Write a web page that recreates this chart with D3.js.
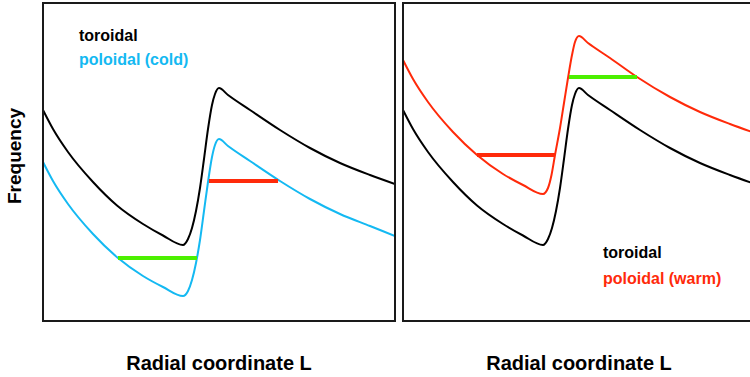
<!DOCTYPE html>
<html>
<head>
<meta charset="utf-8">
<script src="https://cdn.jsdelivr.net/npm/d3@7"></script>
<style>
  html, body { margin: 0; padding: 0; background: #fff; }
  svg { display: block; }
  text { font-family: "Liberation Sans", Arial, sans-serif; font-weight: bold; }
</style>
</head>
<body>
<svg id="chart" width="750" height="377"></svg>
<script>
// Radial coordinate L (arbitrary units) and frequency (arbitrary units)
const toroidalL = [0, 1, 2.5, 5, 7.4, 10, 12, 14.0, 14.5, 14.9, 15.3, 15.7, 16.1, 16.5, 16.9, 17.2, 17.6, 18.5, 20.7, 23.7, 26.7, 29.7, 32.7, 35.2];
const toroidalF = [21.1, 19.2, 16.9, 13.9, 11.55, 9.7, 8.55, 7.6, 8.2, 9.3, 11.0, 13.3, 16.2, 19.2, 21.6, 22.7, 23.3, 22.6, 21.1, 19.1, 17.3, 15.8, 14.6, 13.7];

const coldL = [0, 1, 2.5, 5, 7.5, 10, 12, 14.0, 14.5, 14.9, 15.3, 15.7, 16.1, 16.5, 16.9, 17.2, 17.6, 18.5, 20.7, 23.7, 26.7, 29.7, 32.7, 35.2];
const coldF = [15.9, 14.0, 11.7, 8.7, 6.3, 4.5, 3.4, 2.5, 3.0, 4.1, 5.8, 8.1, 11.0, 13.9, 16.4, 17.6, 18.2, 17.5, 16.0, 14.0, 12.2, 10.7, 9.5, 8.5];

const warmL = [0, 1, 2.5, 5, 7.4, 10, 12, 14.0, 14.5, 14.85, 15.2, 15.7, 16.1, 16.5, 16.9, 17.2, 17.6, 18.5, 20.7, 23.4, 26.7, 29.7, 32.7, 35.2];
const warmF = [26.1, 24.2, 21.9, 18.9, 16.6, 14.7, 13.6, 12.7, 13.3, 14.6, 16.6, 19.3, 21.8, 24.3, 26.6, 27.9, 28.5, 27.8, 26.3, 24.4, 22.4, 20.9, 19.7, 18.8];

// Horizontal frequency bands: [L start, L end, frequency]
const coldGreenBand = [7.5, 15.4, 6.3];
const coldRedBand = [16.6, 23.5, 14.0];
const warmRedBand = [7.4, 15.2, 16.6];
const warmGreenBand = [16.6, 23.4, 24.4];

const legendCold = ["toroidal", "poloidal (cold)"];
const legendWarm = ["toroidal", "poloidal (warm)"];
const xTitle = "Radial coordinate L";
const yTitle = "Frequency";

const colors = { toroidal: "#000000", cold: "#14b9f2", warm: "#ff2a0a", green: "#4cf000", red: "#ff2a0a" };

const svg = d3.select("#chart");
const plotTop = 3, plotBottom = 321, panelW = 352;
const panelsX = [43, 403];

const zip = (a, b) => a.map((v, i) => [v, b[i]]);

const panels = [
  {
    x0: panelsX[0],
    series: [
      { pts: zip(toroidalL, toroidalF), color: colors.toroidal },
      { pts: zip(coldL, coldF), color: colors.cold }
    ],
    bands: [{ b: coldGreenBand, color: colors.green }, { b: coldRedBand, color: colors.red }],
    legend: legendCold, legendColors: [colors.toroidal, colors.cold],
    legendPos: [79, 41], legendGap: 24
  },
  {
    x0: panelsX[1],
    series: [
      { pts: zip(toroidalL, toroidalF), color: colors.toroidal },
      { pts: zip(warmL, warmF), color: colors.warm }
    ],
    bands: [{ b: warmRedBand, color: colors.red }, { b: warmGreenBand, color: colors.green }],
    legend: legendWarm, legendColors: [colors.toroidal, colors.warm],
    legendPos: [603, 258], legendGap: 26
  }
];

panels.forEach((p, i) => {
  const x = d3.scaleLinear().domain([0, 35.2]).range([p.x0, p.x0 + panelW]);
  const y = d3.scaleLinear().domain([0, 31.8]).range([plotBottom, plotTop]);
  const g = svg.append("g");

  const clipId = "clip" + i;
  svg.append("clipPath").attr("id", clipId)
    .append("rect").attr("x", p.x0).attr("y", plotTop).attr("width", panelW).attr("height", plotBottom - plotTop);

  const line = d3.line().x(d => x(d[0])).y(d => y(d[1])).curve(d3.curveMonotoneX);

  const plot = g.append("g").attr("clip-path", `url(#${clipId})`);
  p.series.forEach(s => {
    plot.append("path").datum(s.pts)
      .attr("d", line)
      .attr("fill", "none")
      .attr("stroke", s.color)
      .attr("stroke-width", 2)
      .attr("stroke-linejoin", "round");
  });

  p.bands.forEach(bd => {
    plot.append("line")
      .attr("x1", x(bd.b[0])).attr("x2", x(bd.b[1]))
      .attr("y1", y(bd.b[2])).attr("y2", y(bd.b[2]))
      .attr("stroke", bd.color).attr("stroke-width", 4);
  });

  // panel frame
  g.append("rect")
    .attr("x", p.x0).attr("y", plotTop).attr("width", panelW).attr("height", plotBottom - plotTop)
    .attr("fill", "none").attr("stroke", "#1a1a1a").attr("stroke-width", 2);

  // legend
  p.legend.forEach((t, k) => {
    g.append("text")
      .attr("x", p.legendPos[0])
      .attr("y", p.legendPos[1] + k * p.legendGap)
      .attr("fill", p.legendColors[k])
      .attr("font-size", 16)
      .text(t);
  });

  // x axis title
  g.append("text")
    .attr("x", p.x0 + panelW / 2)
    .attr("y", 370)
    .attr("text-anchor", "middle")
    .attr("font-size", 20)
    .attr("fill", "#000")
    .text(xTitle);
});

// y axis title
svg.append("text")
  .attr("transform", "translate(21,156) rotate(-90)")
  .attr("text-anchor", "middle")
  .attr("font-size", 19)
  .attr("fill", "#000")
  .text(yTitle);
</script>
</body>
</html>
